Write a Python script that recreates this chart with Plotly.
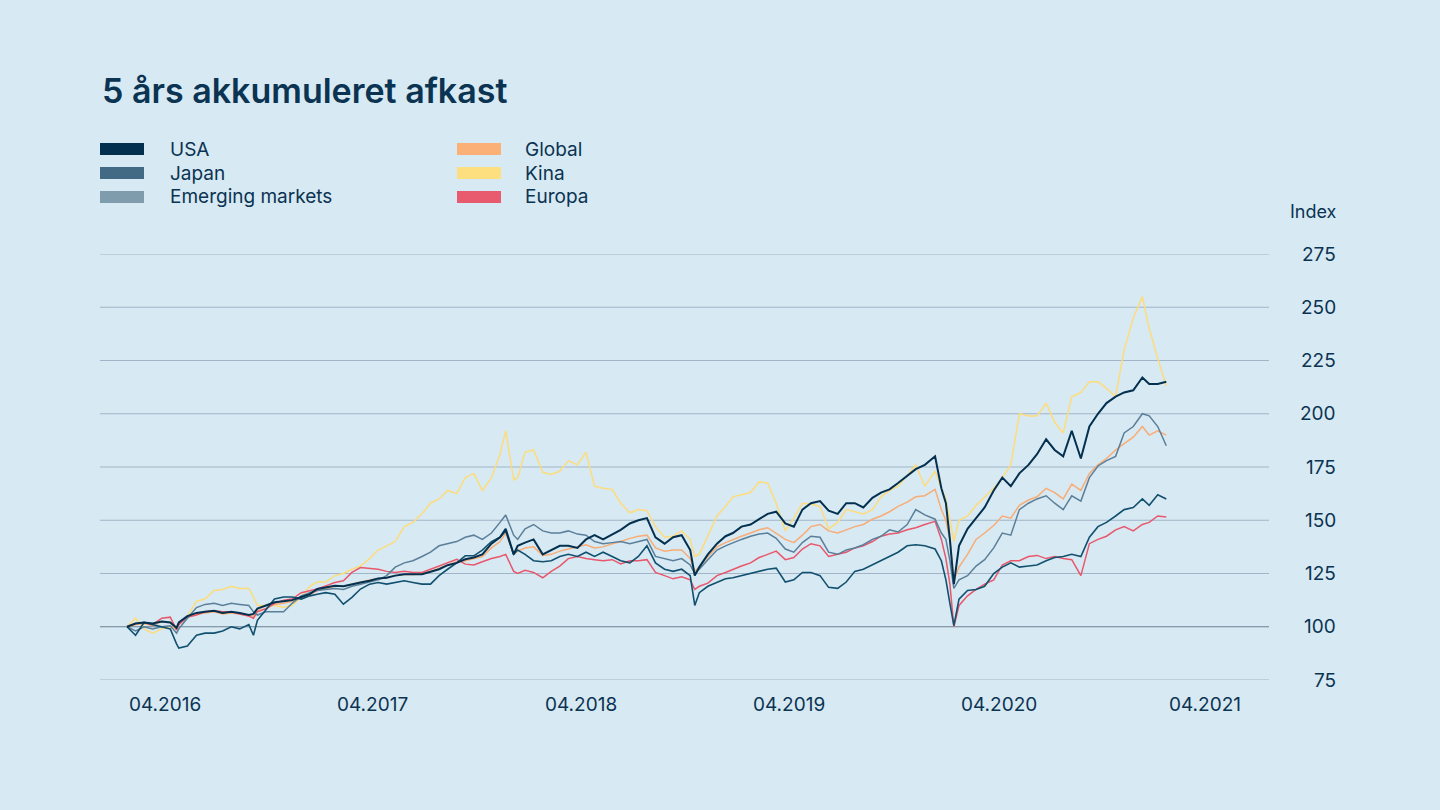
import plotly.graph_objects as go
import pandas as pd

# ---------------- data ----------------
DATES = [
    "2016-04-01", "2016-04-16", "2016-05-01", "2016-05-16", "2016-06-01", "2016-06-16", "2016-06-27",
    "2016-07-01", "2016-07-16", "2016-08-01", "2016-08-16", "2016-09-01", "2016-09-16", "2016-10-01",
    "2016-10-16", "2016-11-01", "2016-11-09", "2016-11-16", "2016-12-01", "2016-12-16", "2017-01-01",
    "2017-01-16",
    "2017-02-01", "2017-02-16", "2017-03-01", "2017-03-16", "2017-04-01", "2017-04-16", "2017-05-01",
    "2017-05-16", "2017-06-01", "2017-06-16", "2017-07-01", "2017-07-16", "2017-08-01", "2017-08-16",
    "2017-09-01", "2017-09-16", "2017-10-01", "2017-10-16", "2017-11-01", "2017-11-16", "2017-12-01",
    "2017-12-16", "2018-01-01", "2018-01-16", "2018-01-26", "2018-02-09", "2018-02-16", "2018-03-01",
    "2018-03-16", "2018-04-01", "2018-04-16", "2018-05-01", "2018-05-16", "2018-06-01", "2018-06-16",
    "2018-07-01", "2018-07-16", "2018-08-01", "2018-08-16", "2018-09-01", "2018-09-16", "2018-10-01",
    "2018-10-16", "2018-11-01", "2018-11-16",
    "2018-12-01", "2018-12-16", "2018-12-24", "2019-01-01", "2019-01-16", "2019-02-01", "2019-02-16",
    "2019-03-01", "2019-03-16", "2019-04-01", "2019-04-16", "2019-05-01", "2019-05-16", "2019-06-01",
    "2019-06-16", "2019-07-01", "2019-07-16", "2019-08-01",
    "2019-08-16", "2019-09-01", "2019-09-16", "2019-10-01", "2019-10-16", "2019-11-01", "2019-11-16",
    "2019-12-01", "2019-12-16", "2020-01-01", "2020-01-16", "2020-02-01", "2020-02-19", "2020-03-01",
    "2020-03-09", "2020-03-16", "2020-03-23", "2020-04-01", "2020-04-16", "2020-05-01", "2020-05-16",
    "2020-06-01", "2020-06-16", "2020-07-01", "2020-07-16", "2020-08-01", "2020-08-16", "2020-09-01",
    "2020-09-16", "2020-10-01", "2020-10-16", "2020-11-01", "2020-11-16", "2020-12-01", "2020-12-16",
    "2021-01-01", "2021-01-16", "2021-02-01", "2021-02-17", "2021-03-01", "2021-03-16", "2021-03-31",
]

USA = [
    100, 101.5, 102, 101.5, 102.5, 102, 99.5, 102, 105, 106.5, 107, 107.5, 106.5, 107, 106.5, 105.5,
    106, 108.5, 110, 111.5, 112, 112.5,
    114, 115.3, 117.7, 118.4, 119.2, 119, 120, 120.8, 121.6, 122.7, 123, 124, 124.7, 124.7, 124.7,
    125.8, 127, 128.9, 130, 131.7, 132.5,
    134, 139, 142, 146, 134, 138, 139.5, 141, 134, 136, 138, 138, 137, 141, 143, 141, 143.5, 145.5,
    148.5, 150, 151, 142, 139, 142,
    143, 136, 124, 128, 134, 139, 142.5, 144, 147, 148, 150.5, 153, 154, 148.5, 147, 155, 158, 159,
    154.5, 153, 158, 158, 156, 160.5, 163, 164.5, 167.5, 171, 174, 176, 180, 165, 158, 141, 120, 138,
    146, 151, 156,
    164, 170, 166, 172, 176, 181, 188, 183, 180, 192, 179, 194, 200, 205, 208, 210, 211, 217, 214, 214,
    215,
]

JAPAN = [
    100, 96, 102, 101, 100, 99, 92, 90, 91, 96, 97, 97, 98, 100, 99, 101, 96, 103, 108, 113, 114, 114,
    113, 114.5, 115.3, 116, 115.3, 110.6, 113.8, 117.7, 120, 120.8, 120, 120.8, 121.6, 120.8, 120, 120,
    124, 127, 130, 133.3, 133.3,
    136, 140, 142, 145, 134, 136, 134, 131, 130.5, 131, 133, 134, 133, 135, 133, 135, 133, 131, 130,
    133, 138, 130, 127, 126,
    127, 124, 110, 116, 119, 121, 122.5, 123, 124, 125, 126, 127, 127.5, 121, 122, 125.5, 125.5, 124,
    118.5, 118, 121, 126, 127, 129, 131, 133, 135, 138, 138.5, 138, 136.5, 131, 122, 111, 100.5, 113,
    117, 117.5, 119,
    125, 128, 130, 128, 128.5, 129, 131, 132.5, 133, 134, 133, 142, 147, 149, 152, 155, 156, 160, 157,
    162, 160,
]

EMERGING = [
    100, 98, 100, 99, 100, 100.5, 97, 99, 104, 109, 110.5, 111, 110, 111, 110.5, 110, 107, 105.5, 107,
    107, 107, 111,
    114.5, 116, 117, 117.5, 118, 117.5, 119, 120, 121, 122, 124, 128, 130, 131, 133, 135, 138, 139,
    140, 142, 143,
    141, 144, 149, 152.5, 143, 141, 146, 148, 145, 144, 144, 145, 143.5, 143, 140, 139, 139.5, 140,
    139, 140, 141, 133, 132, 131,
    132, 129, 125, 127, 131.5, 136, 138, 139.5, 141, 142.5, 143.5, 144, 141.5, 136.5, 135, 139.5,
    142.5, 142,
    135, 134, 136, 137, 138.5, 141, 142.5, 145.5, 144.5, 148, 155, 152.5, 150.5, 144, 141, 131, 118,
    122, 124, 128.5, 131.5,
    137, 144, 143, 155, 158, 160, 161.5, 158, 155, 161.5, 159, 170, 175.5, 178, 180, 191, 194, 200,
    199, 194, 185,
]

GLOBAL = [
    100, 101, 101.5, 100.5, 102.5, 102, 98.5, 101.5, 104.5, 106, 106.5, 107, 106, 106.5, 106, 105, 105,
    107.5, 108.5, 110.5, 111, 112,
    113.5, 115, 117, 118, 119, 119, 120, 121, 122, 122.5, 123, 124, 124.5, 124.5, 125, 126, 127.5, 129,
    130.5, 131, 132,
    133, 137, 140, 144, 134, 135.5, 137, 137.5, 133.5, 134, 135.5, 136.5, 137.5, 138.5, 137, 137.5,
    139, 140, 141.5, 142.5, 143, 137, 135.5, 136,
    136, 132, 126, 128, 133, 137.5, 139.5, 141, 142.5, 144, 145.5, 146.5, 144, 141, 139.5, 143, 147,
    148,
    145, 144, 145.5, 147, 148, 150.5, 152, 154, 156.5, 158.5, 161, 161.5, 164.5, 155, 150, 141, 122,
    128, 134, 141, 144,
    147.5, 152, 151, 157, 159.5, 161, 165, 163, 160, 167, 164, 172, 176, 179, 183, 186, 189, 194, 190,
    192, 190,
]

KINA = [
    100, 104, 99, 97, 99, 100, 99, 101, 105, 112, 113, 117, 117.5, 119, 118, 118, 114, 110, 110, 110,
    109, 110,
    114, 119, 121, 121, 124, 125, 127, 128.5, 132, 136, 138, 140, 147, 149, 153, 158, 160, 164, 162.5,
    170, 172,
    164, 170, 181, 192, 169, 170, 182, 183, 172.5, 171.5, 173, 178, 176, 182, 166, 165, 164.5, 158,
    153.5, 155, 154.5, 147, 142, 142.5,
    145, 141, 133, 134, 142.5, 152, 156.5, 161, 162, 163, 168, 167.5, 158, 145, 151, 158, 157.5, 156.5,
    146, 149, 155, 154, 153, 155, 161, 164, 166, 171, 176, 166, 173, 165, 160, 150, 140, 150, 152, 157,
    161,
    165, 170, 176, 200, 199, 199, 205, 196, 191, 208, 210, 215, 215, 212, 208, 230, 245, 255, 240, 226,
    213,
]

EUROPA = [
    100, 101.5, 102, 101, 104, 104.5, 98.5, 101, 104.5, 105.5, 107, 107.5, 107, 107, 106, 105, 104, 107,
    108.5, 111, 112.5, 113,
    116, 117, 117.7, 119.2, 120.8, 121.6, 125.5, 127.8, 127.3, 127, 126, 125.5, 126, 125.5, 125.5, 127,
    128.6, 130, 131.7, 129.4, 129,
    130.5, 132, 133, 134, 126, 125, 126.5, 125.5, 123, 126, 128.5, 132, 133, 132, 131.5, 131, 131.5,
    129.5, 131, 131, 131.5, 125.5, 124, 122.5,
    123.5, 122, 117.5, 119, 120.5, 124, 125.5, 127, 128.5, 130, 132.5, 134, 135.5, 131.5, 132.5, 136.5,
    139, 138,
    133, 134, 135, 137, 138, 140, 142.5, 143.5, 144, 145.5, 146.5, 148, 149.5, 141, 132, 120, 100, 110,
    114.5, 117.5, 120,
    122, 129, 131, 131, 133, 133.5, 132, 133, 132, 131.5, 124, 139, 141, 142.5, 145.5, 147, 145, 148,
    149, 152, 151.5,
]

Y_TICKS = [75, 100, 125, 150, 175, 200, 225, 250, 275]
X_TICK_DATES = ["2016-04-01", "2017-04-01", "2018-04-01", "2019-04-01", "2020-04-01", "2021-04-01"]
X_TICK_TEXT = ["04.2016", "04.2017", "04.2018", "04.2019", "04.2020", "04.2021"]
BASE = 100

TITLE = "5 års akkumuleret afkast"
Y_LABEL = "Index"

# ---------------- styling ----------------
BG = "#d7e9f2"
INK = "#0b3352"
GRID = "#a2b5c8"
BASE_LINE = "#6b8093"
FONT = "Inter"

# name, values, line colour, legend swatch colour, width (drawing order: bottom to top)
SERIES = [
    ("Kina", KINA, "#fddc7c", "#fddf80", 1.5),
    ("Global", GLOBAL, "#f8ac76", "#fbb077", 1.5),
    ("Europa", EUROPA, "#e9576d", "#e85a6e", 1.5),
    ("Emerging markets", EMERGING, "#5a7f9a", "#7f9cad", 1.5),
    ("Japan", JAPAN, "#12506f", "#436a85", 1.6),
    ("USA", USA, "#04304f", "#04304f", 2.0),
]
LEGEND_COL1 = ["USA", "Japan", "Emerging markets"]
LEGEND_COL2 = ["Global", "Kina", "Europa"]

W, H = 1440, 810
L, R, T, B = 100, 171, 254, 130
PW, PH = W - L - R, H - T - B
Y0, Y1 = Y_TICKS[0], Y_TICKS[-1]


def px(x):
    return (x - L) / PW


def py(y):
    return (H - B - y) / PH


def vy(v):
    # axis value -> paper fraction (used only for axis text placement)
    return (v - Y0) / (Y1 - Y0)


fig = go.Figure()
dates = pd.to_datetime(DATES)
for name, vals, col, _, w in SERIES:
    fig.add_trace(go.Scatter(
        x=dates, y=vals, mode="lines", name=name,
        line=dict(color=col, width=w), showlegend=False, hoverinfo="x+y+name",
    ))

# x range: one year = 208 px, first data date 27 px from the left edge
px_per_day = 208 / 365.25
x_left = pd.Timestamp(DATES[0]) - pd.Timedelta(days=27 / px_per_day)
x_right = x_left + pd.Timedelta(days=PW / px_per_day)

fig.update_layout(
    width=W, height=H,
    margin=dict(l=L, r=R, t=T, b=B, pad=0),
    paper_bgcolor=BG, plot_bgcolor=BG,
    font=dict(family=FONT, color=INK),
    showlegend=False,
    xaxis=dict(range=[x_left, x_right], showgrid=False, zeroline=False,
               showticklabels=False, ticks="", showline=False),
    yaxis=dict(range=[Y0, Y1], showgrid=False, zeroline=False,
               showticklabels=False, ticks="", showline=False),
)

# horizontal grid lines (drawn as shapes so the edge lines show too)
for v in Y_TICKS:
    fig.add_shape(type="line", xref="paper", yref="y", x0=0, x1=1, y0=v, y1=v,
                  line=dict(color=BASE_LINE if v == BASE else GRID, width=1), layer="below")

ann = []
# title
ann.append(dict(text=TITLE, xref="paper", yref="paper", x=px(100), y=py(90),
                xanchor="left", yanchor="middle", showarrow=False,
                font=dict(size=34, color=INK, family=FONT, weight=600)))
# y label
ann.append(dict(text=Y_LABEL, xref="paper", yref="paper", x=px(1339), y=py(211),
                xanchor="right", yanchor="middle", showarrow=False,
                font=dict(size=18, color=INK, family=FONT)))
# y tick labels (right aligned)
for v in Y_TICKS:
    ann.append(dict(text=str(v), xref="paper", yref="paper", x=px(1338), y=vy(v),
                    xanchor="right", yanchor="middle", showarrow=False, align="right",
                    font=dict(size=19, color=INK, family=FONT)))
# x tick labels (left aligned at the tick date)
for d, t in zip(X_TICK_DATES, X_TICK_TEXT):
    ann.append(dict(text=t, xref="x", yref="paper", x=d, y=py(704),
                    xanchor="left", yanchor="middle", showarrow=False,
                    font=dict(size=19, color=INK, family=FONT)))

# legend (two columns of swatch + text)
swatch = {n: sc for n, _, _, sc, _ in SERIES}
for col_names, sx, tx in [(LEGEND_COL1, 100, 168), (LEGEND_COL2, 457, 523)]:
    for i, n in enumerate(col_names):
        cy = 149 + 24 * i
        fig.add_shape(type="rect", xref="paper", yref="paper",
                      x0=px(sx), x1=px(sx + 44), y0=py(cy - 6), y1=py(cy + 6),
                      fillcolor=swatch[n], line=dict(width=0))
        ann.append(dict(text=n, xref="paper", yref="paper", x=px(tx), y=py(cy),
                        xanchor="left", yanchor="middle", showarrow=False,
                        font=dict(size=19, color=INK, family=FONT)))

fig.update_layout(annotations=ann)
fig.write_html("out.html", config={"displayModeBar": False},
               post_script="document.body.style.margin='0';document.body.style.overflow='hidden';")
